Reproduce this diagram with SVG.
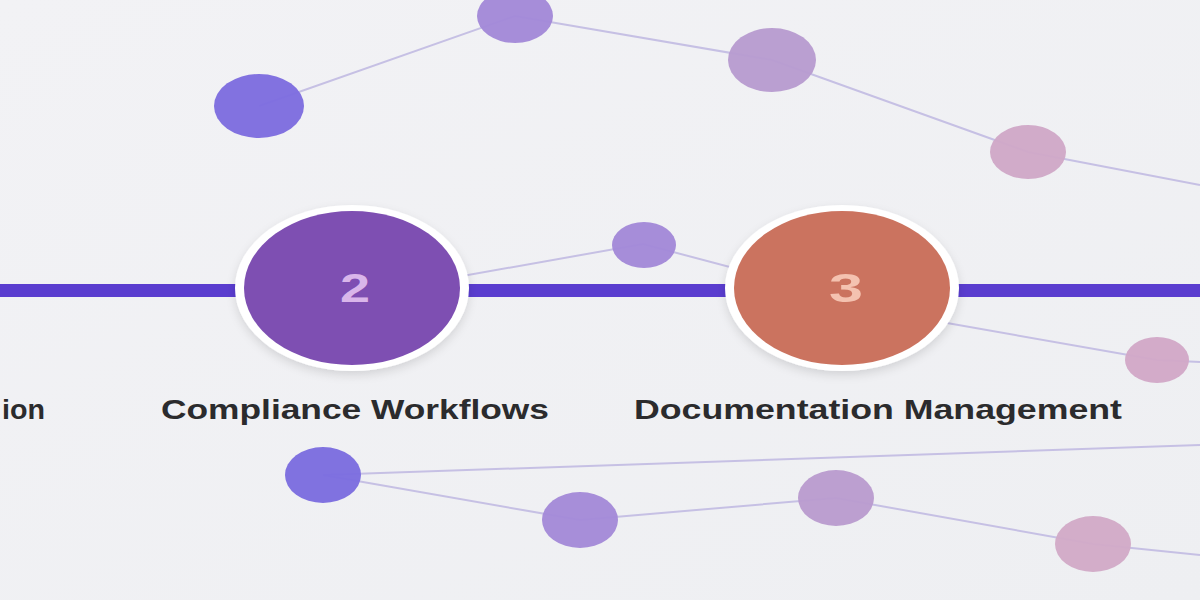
<svg xmlns="http://www.w3.org/2000/svg" width="1200" height="600" viewBox="0 0 1200 600">
  <defs>
    <linearGradient id="bg" x1="0" y1="0" x2="1" y2="1">
      <stop offset="0" stop-color="#f2f2f5"/>
      <stop offset="1" stop-color="#eeeff2"/>
    </linearGradient>
    <filter id="shadow" x="-20%" y="-20%" width="140%" height="150%">
      <feDropShadow dx="0" dy="4" stdDeviation="5" flood-color="#000" flood-opacity="0.12"/>
    </filter>
    <style>
      .link { stroke: #c6c0e4; stroke-width: 2; fill: none; }
      .dot { opacity: 0.97; }
      .ring { fill: #ffffff; filter: url(#shadow); }
      .num { font-family: "Liberation Sans", Arial, sans-serif; font-weight: bold; font-size: 40px; }
      .label { font-family: "Liberation Sans", Arial, sans-serif; font-weight: bold; font-size: 27px; fill: #2b2b2d; }
      .bar { fill: #5a3dcf; }
    </style>
  </defs>

  <rect x="0" y="0" width="1200" height="600" fill="url(#bg)"/>

  <g id="connectors">
    <polyline class="link" points="259,106 515,16 772,60 1028,152 1200,185"/>
    <polyline class="link" points="440,280 643,244 760,275"/>
    <polyline class="link" points="930,320 1157,360 1200,362"/>
    <polyline class="link" points="323,475 580,520 836,498 1093,544 1200,555"/>
    <polyline class="link" points="323,475 1200,445"/>
  </g>

  <g id="timeline">
    <rect class="bar" x="0" y="284" width="1200" height="13"/>
  </g>

  <g id="dot-a"><ellipse class="dot" cx="259" cy="106" rx="45" ry="32" fill="#7e6ddf"/></g>
  <g id="dot-b"><ellipse class="dot" cx="515" cy="16" rx="38" ry="27" fill="#a389d8"/></g>
  <g id="dot-c"><ellipse class="dot" cx="772" cy="60" rx="44" ry="32" fill="#b89ccf"/></g>
  <g id="dot-d"><ellipse class="dot" cx="1028" cy="152" rx="38" ry="27" fill="#d0a8c7"/></g>
  <g id="dot-e"><ellipse class="dot" cx="644" cy="245" rx="32" ry="23" fill="#a389d8"/></g>
  <g id="dot-f"><ellipse class="dot" cx="1157" cy="360" rx="32" ry="23" fill="#d2a8c7"/></g>
  <g id="dot-g"><ellipse class="dot" cx="323" cy="475" rx="38" ry="28" fill="#7c6ddf"/></g>
  <g id="dot-h"><ellipse class="dot" cx="580" cy="520" rx="38" ry="28" fill="#a48ad8"/></g>
  <g id="dot-i"><ellipse class="dot" cx="836" cy="498" rx="38" ry="28" fill="#ba9cce"/></g>
  <g id="dot-j"><ellipse class="dot" cx="1093" cy="544" rx="38" ry="28" fill="#d2aac7"/></g>

  <g id="node-1">
    <text class="label" x="2" y="419" textLength="43" lengthAdjust="spacingAndGlyphs">ion</text>
  </g>

  <g id="node-2">
    <ellipse class="ring" cx="352" cy="288" rx="117" ry="83"/>
    <ellipse cx="352" cy="288" rx="108" ry="77" fill="#7e4fb2"/>
    <text class="num" x="340" y="302" textLength="30" lengthAdjust="spacingAndGlyphs" fill="#d9b6ea">2</text>
    <text class="label" x="161" y="419" textLength="388" lengthAdjust="spacingAndGlyphs">Compliance Workflows</text>
  </g>

  <g id="node-3">
    <ellipse class="ring" cx="842" cy="288" rx="117" ry="83"/>
    <ellipse cx="842" cy="288" rx="108" ry="77" fill="#cb735f"/>
    <text class="num" x="829" y="302" textLength="34" lengthAdjust="spacingAndGlyphs" fill="#f4c2b0">3</text>
    <text class="label" x="634" y="419" textLength="488" lengthAdjust="spacingAndGlyphs">Documentation Management</text>
  </g>
</svg>
